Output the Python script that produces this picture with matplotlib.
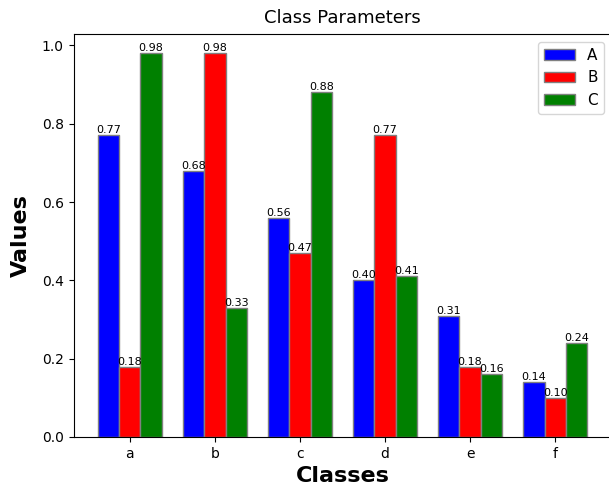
import matplotlib
matplotlib.use("Agg")
import matplotlib.pyplot as plt
import numpy as np

classes = ['a', 'b', 'c', 'd', 'e', 'f']
vals_a = [0.77, 0.68, 0.56, 0.40, 0.31, 0.14]
vals_b = [0.18, 0.98, 0.47, 0.77, 0.18, 0.10]
vals_c = [0.98, 0.33, 0.88, 0.41, 0.16, 0.24]
series_names = ['A', 'B', 'C']
series_colors = ['blue', 'red', 'green']

bar_width = 0.25
r1 = np.arange(len(classes))
r2 = r1 + bar_width
r3 = r2 + bar_width

fig = plt.figure(figsize=(6.09, 4.91), dpi=100)
# right spine falls just outside the picture, as in the reference
ax = fig.add_axes([73.5 / 609, 1 - 437 / 491, (611.5 - 73.5) / 609, (437 - 34) / 491])

for pos, vals, name, col in zip([r1, r2, r3], [vals_a, vals_b, vals_c], series_names, series_colors):
    bars = ax.bar(pos, vals, width=bar_width, color=col, edgecolor='grey', label=name)
    for b in bars:
        ax.text(b.get_x() + b.get_width() / 2, b.get_height(), f'{b.get_height():.2f}',
                ha='center', va='bottom', fontsize=8)

ax.set_xticks(r2)
ax.set_xticklabels(classes)
ax.set_xlabel('Classes', fontweight='bold', fontsize=16)
ax.set_ylabel('Values', fontweight='bold', fontsize=16, labelpad=8)
ax.set_title('Class Parameters', fontsize=13, pad=8)
ax.legend(fontsize=11)

fig.savefig('out.png', dpi=100)
